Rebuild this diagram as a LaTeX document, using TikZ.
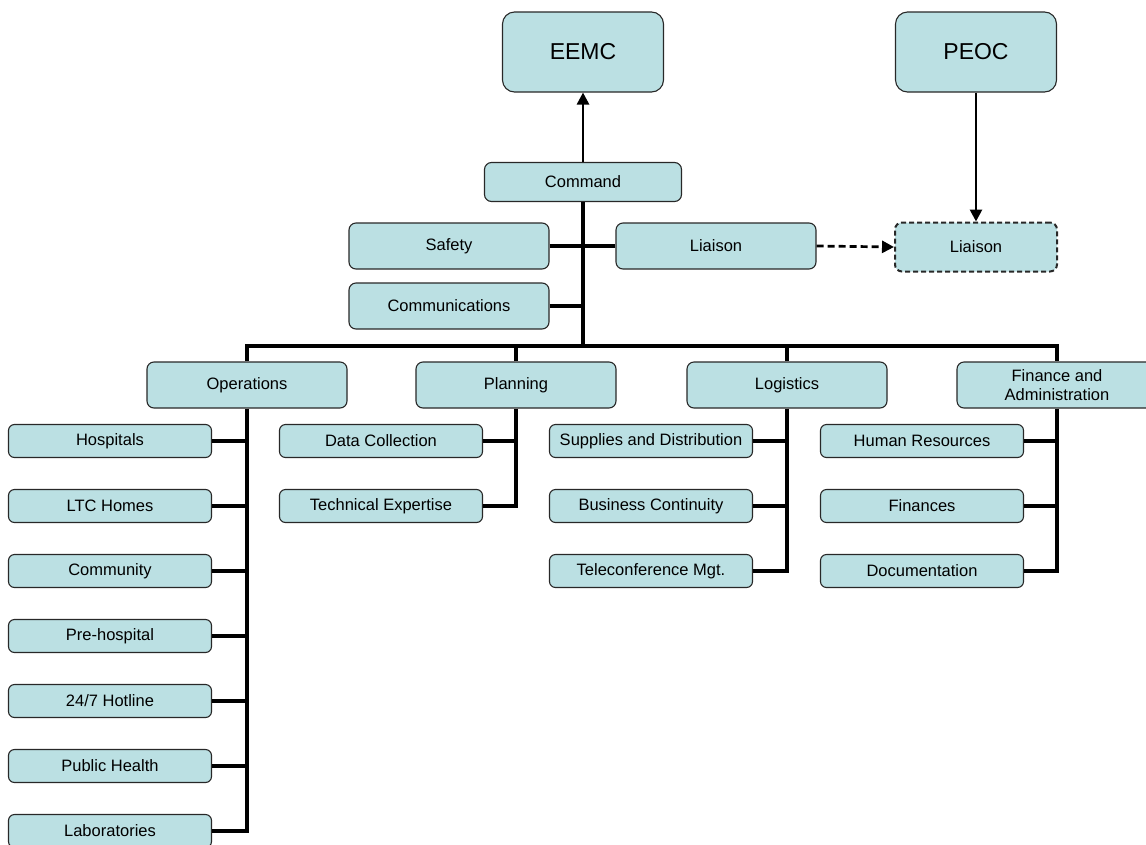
\documentclass[tikz,border=0pt]{standalone}
\usepackage{fontspec}
\setmainfont{Liberation Sans}
\usetikzlibrary{arrows.meta, positioning}
\definecolor{boxteal}{RGB}{187, 224, 227}
\definecolor{boxline}{RGB}{40, 40, 40}
\tikzset{
  mod/.style      = {rectangle, rounded corners=7pt, draw=boxline, line width=1.1pt, fill=boxteal, minimum width=200pt, minimum height=46pt, inner sep=0pt, align=center, font=\fontsize{16.5}{19}\selectfont},
  modtop/.style   = {mod, rounded corners=12pt, minimum width=161pt, minimum height=80pt, font=\fontsize{23}{27}\selectfont},
  modcmd/.style   = {mod, minimum width=197pt, minimum height=39pt},
  modsub/.style   = {mod, rounded corners=6pt, minimum width=203pt, minimum height=33pt},
  modext/.style   = {mod, line width=2pt, dash pattern=on 5pt off 3pt, minimum width=162pt, minimum height=49pt},
  tree/.style     = {line width=3.6pt, black},
  flow/.style     = {-{Triangle[length=12pt, width=12pt]}, line width=2.7pt, black},
  flowdash/.style = {flow, dash pattern=on 7pt off 4pt},
}

\begin{document}
\begin{tikzpicture}[x=1pt, y=-1pt]
  \useasboundingbox (0,0) rectangle (1146,844);

  % upper level
  \node[modtop] (eemc) at (583,52) {EEMC};
  \node[modtop] (peoc) at (976,52) {PEOC};
  \node[modcmd] (cmd) at (583,182) {Command};
  \node[mod] (safety) at (449,246) {Safety};
  \node[mod] (comm) at (449,306) {Communications};
  \node[mod] (liaison) at (716,246) {Liaison};
  \node[modext] (liaisonext) at (976,247) {Liaison};
  \coordinate (bus) at (583,346);

  % sections
  \node[mod] (ops) at (247,385) {Operations};
  \node[mod] (plan) at (516,385) {Planning};
  \node[mod] (logi) at (787,385) {Logistics};
  \node[mod] (fin) at (1057,385) {Finance and\\Administration};

  % operations
  \node[modsub] (hosp) at (110,441) {Hospitals};
  \node[modsub] (ltc) at (110,506) {LTC Homes};
  \node[modsub] (cmty) at (110,571) {Community};
  \node[modsub] (prehosp) at (110,636) {Pre-hospital};
  \node[modsub] (hotline) at (110,701) {24/7 Hotline};
  \node[modsub] (pubh) at (110,766) {Public Health};
  \node[modsub] (labs) at (110,831) {Laboratories};

  % planning
  \node[modsub] (datac) at (381,441) {Data Collection};
  \node[modsub] (techx) at (381,506) {Technical Expertise};

  % logistics
  \node[modsub] (supply) at (651,441) {Supplies and Distribution};
  \node[modsub] (bcont) at (651,506) {Business Continuity};
  \node[modsub] (tele) at (651,571) {Teleconference Mgt.};

  % finance and administration
  \node[modsub] (hr) at (922,441) {Human Resources};
  \node[modsub] (finances) at (922,506) {Finances};
  \node[modsub] (docs) at (922,571) {Documentation};

  % reporting arrows
  \draw[flow] (cmd.north) -- (eemc.south);
  \draw[flow] (peoc.south) -- (liaisonext.north);
  \draw[flowdash] (liaison.east) -- (liaisonext.west);

  % tree lines
  \draw[tree] (cmd.south) -- (bus);
  \draw[tree] (safety.east) -- (safety.east -| cmd.south);
  \draw[tree] (liaison.west) -- (liaison.west -| cmd.south);
  \draw[tree] (comm.east) -- (comm.east -| cmd.south);
  \draw[tree] (ops.north) |- (bus) -| (fin.north);
  \draw[tree] (plan.north) -- (plan.north |- bus);
  \draw[tree] (logi.north) -- (logi.north |- bus);

  \draw[tree] (ops.south) |- (labs.east);
  \draw[tree] (hosp.east) -- (hosp.east -| ops.south);
  \draw[tree] (ltc.east) -- (ltc.east -| ops.south);
  \draw[tree] (cmty.east) -- (cmty.east -| ops.south);
  \draw[tree] (prehosp.east) -- (prehosp.east -| ops.south);
  \draw[tree] (hotline.east) -- (hotline.east -| ops.south);
  \draw[tree] (pubh.east) -- (pubh.east -| ops.south);

  \draw[tree] (plan.south) |- (techx.east);
  \draw[tree] (datac.east) -- (datac.east -| plan.south);

  \draw[tree] (logi.south) |- (tele.east);
  \draw[tree] (supply.east) -- (supply.east -| logi.south);
  \draw[tree] (bcont.east) -- (bcont.east -| logi.south);

  \draw[tree] (fin.south) |- (docs.east);
  \draw[tree] (hr.east) -- (hr.east -| fin.south);
  \draw[tree] (finances.east) -- (finances.east -| fin.south);
\end{tikzpicture}
\end{document}
